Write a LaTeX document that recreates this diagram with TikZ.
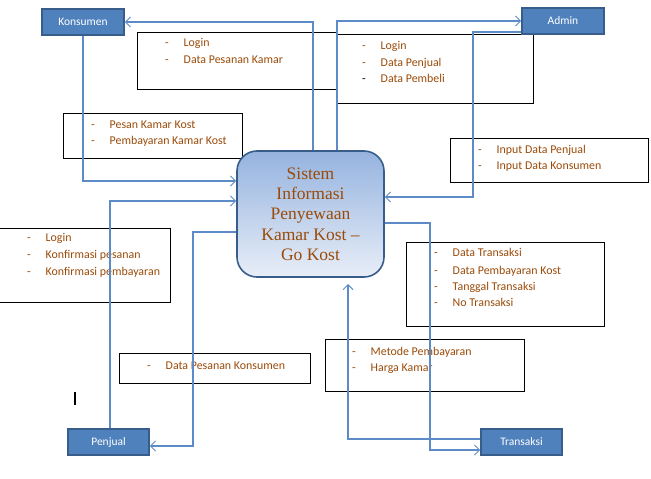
\documentclass[tikz,border=0pt]{standalone}
\usepackage{fontspec}
\setmainfont{Carlito}
\newfontfamily\serfont{Liberation Serif}
\usetikzlibrary{arrows.meta}
\definecolor{entfill}{HTML}{4F81BD}
\definecolor{entdraw}{HTML}{385D8A}
\definecolor{flowc}{HTML}{5D8BC7}
\definecolor{txtc}{HTML}{9A4A08}
\definecolor{shtop}{HTML}{95B3DF}
\definecolor{shbot}{HTML}{E8EEF8}
\newcommand{\dsh}{\makebox[18.5bp][l]{-}}
\tikzset{
  entity/.style={rectangle, fill=entfill, draw=entdraw, line width=1.6bp, text=white,
    font=\fontsize{11.5bp}{13bp}\selectfont, minimum width=82bp, minimum height=26bp, inner sep=0pt},
  tbox/.style={rectangle, draw=black, line width=1bp, inner sep=0pt},
  item/.style={anchor=base west, inner sep=0pt, text=txtc, font=\fontsize{11.9bp}{13bp}\selectfont},
  flow/.style={draw=flowc, line width=1.2bp, -{Straight Barb[length=5bp,width=10bp,line width=1bp]}},
  sysbox/.style={rectangle, rounded corners=20bp, draw=entdraw, line width=1.6bp,
    top color=shtop, bottom color=shbot, minimum width=147bp, minimum height=126bp,
    align=center, text=txtc, font=\serfont\fontsize{17.5bp}{20.3bp}\selectfont}
}
\begin{document}
\begin{tikzpicture}[x=1bp,y=-1bp]
\useasboundingbox (0,0) rectangle (651,479);

% text boxes
\node[tbox, minimum width=199bp, minimum height=57bp, anchor=north west] (b1) at (137,32) {};
\node[tbox, minimum width=197bp, minimum height=69bp, anchor=north west] (b2) at (336,34) {};
\node[tbox, minimum width=179bp, minimum height=45bp, anchor=north west] (b3) at (63,113) {};
\node[tbox, minimum width=198bp, minimum height=44bp, anchor=north west] (b4) at (450,138) {};
\node[tbox, minimum width=174bp, minimum height=74bp, anchor=north west] (b5) at (-4,228) {};
\node[tbox, minimum width=198bp, minimum height=84bp, anchor=north west] (b6) at (406,242) {};
\node[tbox, minimum width=191bp, minimum height=30bp, anchor=north west] (b7) at (119,353) {};
\node[tbox, minimum width=199bp, minimum height=52bp, anchor=north west] (b8) at (325,339) {};

% items
\node[item] (b1a) at (165,47) {\dsh Login};
\node[item] (b1b) at (165,64) {\dsh Data Pesanan Kamar};
\node[item] (b2a) at (362,50) {\dsh Login};
\node[item] (b2b) at (362,67) {\dsh Data Penjual};
\node[item] (b2c) at (362,83) {{\color{black}\makebox[18.5bp][l]{-}}Data Pembeli};
\node[item] (b3a) at (91,129) {\dsh Pesan Kamar Kost};
\node[item] (b3b) at (91,145) {\dsh Pembayaran Kamar Kost};
\node[item] (b4a) at (478,154) {\dsh Input Data Penjual};
\node[item] (b4b) at (478,170) {\dsh Input Data Konsumen};
\node[item] (b5a) at (27,242) {\dsh Login};
\node[item] (b5b) at (27,259) {\dsh Konfirmasi pesanan};
\node[item] (b5c) at (27,275) {\dsh Konfirmasi pembayaran};
\node[item] (b6a) at (434,257) {\dsh Data Transaksi};
\node[item] (b6b) at (434,274) {\dsh Data Pembayaran Kost};
\node[item] (b6c) at (434,290) {\dsh Tanggal Transaksi};
\node[item] (b6d) at (434,306) {\dsh No Transaksi};
\node[item] (b7a) at (147,369) {\dsh Data Pesanan Konsumen};
\node[item] (b8a) at (352,355) {\dsh Metode Pembayaran};
\node[item] (b8b) at (352,371) {\dsh Harga Kamar};

% central process
\node[sysbox] (sys) at (310.5,214) {Sistem\\Informasi\\Penyewaan\\Kamar Kost –\\Go Kost};

% entities
\node[entity] (kons) at (83,22) {Konsumen};
\node[entity] (admin) at (563,21) {Admin};
\node[entity, minimum width=81bp] (penj) at (108.5,442) {Penjual};
\node[entity, minimum width=81bp] (trans) at (521.5,442) {Transaksi};

% helper coordinates
\coordinate (y181) at (0,181);
\coordinate (p313) at (313,0);
\coordinate (p337) at (337,0);
\coordinate (q4) at (473,197);
\coordinate (q5) at (110,201);
\coordinate (q6a) at (193,232);
\coordinate (q6b) at (193,446);
\coordinate (q7a) at (430,223);
\coordinate (q7b) at (430,450);
\coordinate (q8a) at (348,439);
\coordinate (q8b) at (348,284);
\coordinate (cur1) at (75,392);
\coordinate (cur2) at (75,405);

% connectors
\draw[flow] (kons.south) |- (sys.west |- y181);
\draw[flow] (sys.north -| p313) |- (kons.east);
\draw[flow] (sys.north -| p337) |- (admin.west);
\draw[flow] ([yshift=-11bp]admin.west) -| (q4) -- (sys.east |- q4);
\draw[flow] (penj.north -| q5) |- (sys.west |- q5);
\draw[flow] (sys.west |- q6a) -- (q6a) -- (q6b) -- (penj.east |- q6b);
\draw[flow] (sys.east |- q7a) -- (q7a) -- (q7b) -- (trans.west |- q7b);
\draw[flow] (trans.west |- q8a) -- (q8a) -- (q8b);

% text cursor
\draw[line width=1.6bp, black] (cur1) -- (cur2);
\end{tikzpicture}
\end{document}
